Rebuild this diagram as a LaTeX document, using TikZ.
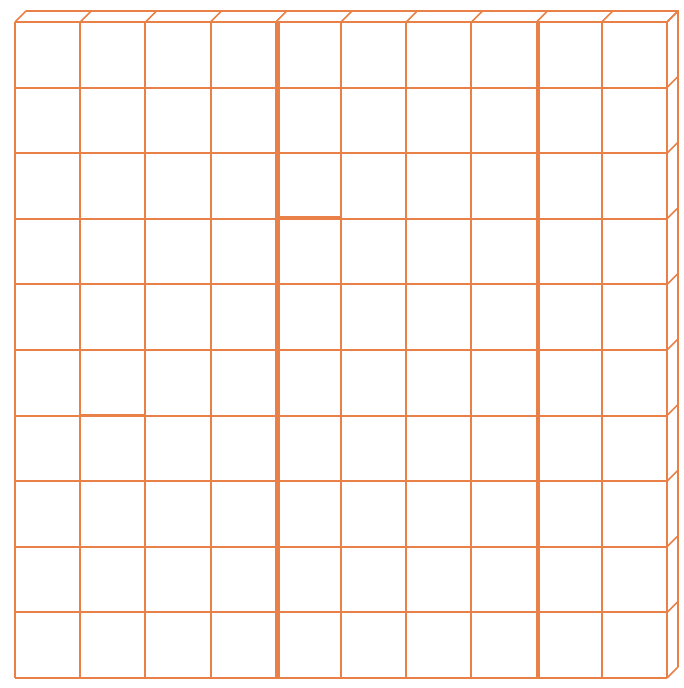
\documentclass[tikz,border=0pt]{standalone}
\usepackage{xcolor}
\usepackage{tikz}
\definecolor{flatorange}{RGB}{232,128,72}

\begin{document}
\begin{tikzpicture}[
  x=0.02cm, y=-0.02cm,
  gridline/.style={draw=flatorange, line width=1.2pt},
  heavyline/.style={draw=flatorange, line width=1.7pt},
  depthline/.style={draw=flatorange, line width=0.9pt}
]
\useasboundingbox (0,0) rectangle (683,688);
% front face of the flat: 10 x 10 unit cubes
\foreach \i in {0,...,10} {
  \draw[gridline] (15+65.2*\i,22) -- (15+65.2*\i,678);
  \draw[gridline] (15,22+65.6*\i) -- (667,22+65.6*\i);
}
% heavier edges
\draw[heavyline] (278,22) -- (278,678);
\draw[heavyline] (538,22) -- (538,678);
\draw[heavyline] (80,415) -- (146,415);
\draw[heavyline] (278,217) -- (342,217);
% top face
\draw[depthline] (26,11) -- (678,11) -- (678,667);
\foreach \i in {0,...,10} {
  \draw[depthline] (15+65.2*\i,22) -- (26+65.2*\i,11);
  \draw[depthline] (667,22+65.6*\i) -- (678,11+65.6*\i);
}
\end{tikzpicture}
\end{document}
